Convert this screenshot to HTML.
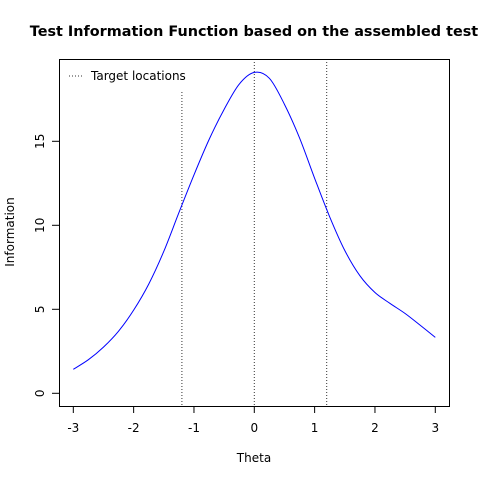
<!DOCTYPE html>
<html><head><meta charset="utf-8"><style>body{margin:0;background:#fff}svg{display:block}text{font-family:"DejaVu Sans","Liberation Sans",sans-serif;fill:#000}</style></head>
<body>
<svg id="chart" width="480" height="480" viewBox="0 0 480 480">
<rect width="480" height="480" fill="#fff"/>
<text x="254" y="36" text-anchor="middle" font-size="14.4" font-weight="bold">Test Information Function based on the assembled test</text>
<g id="plot"></g>
<text x="254" y="462" text-anchor="middle" font-size="12">Theta</text>
<text transform="translate(14,232) rotate(-90)" text-anchor="middle" font-size="12">Information</text>
</svg>
<script>
const thetas=[-3,-2.75,-2.5,-2.25,-2,-1.75,-1.5,-1.25,-1,-0.75,-0.5,-0.25,0,0.25,0.5,0.75,1,1.25,1.5,1.75,2,2.25,2.5,2.75,3];
const info=[1.43,2.0,2.75,3.7,4.95,6.5,8.45,10.75,13.0,15.1,16.9,18.4,19.1,18.75,17.2,15.2,12.8,10.5,8.5,7.0,6.0,5.35,4.75,4.05,3.33];
const targets=[-1.2,0,1.2];
const xTicks=[-3,-2,-1,0,1,2,3];
const yTicks=[0,5,10,15];
const NS='http://www.w3.org/2000/svg';
const g=document.getElementById('plot');
const X=v=>254.3+60.33*v, Y=v=>393.3-16.8*v;
function mk(t,a){const e=document.createElementNS(NS,t);for(const k in a)e.setAttribute(k,a[k]);g.appendChild(e);return e;}
targets.forEach(t=>{const l=mk('line',{x1:X(t),x2:X(t),y1:59,y2:406,stroke:'#333','stroke-width':1,'stroke-dasharray':'1,2'});

});
const lb=mk('rect',{x:60,y:60,width:130,height:30,fill:'#fff'});


const P=thetas.map((t,i)=>[X(t),Y(info[i])]);
let d='M'+P[0][0]+','+P[0][1];
for(let i=0;i<P.length-1;i++){const p0=P[i-1]||P[i],p1=P[i],p2=P[i+1],p3=P[i+2]||P[i+1];
d+=' C'+(p1[0]+(p2[0]-p0[0])/6)+','+(p1[1]+(p2[1]-p0[1])/6)+' '+(p2[0]-(p3[0]-p1[0])/6)+','+(p2[1]-(p3[1]-p1[1])/6)+' '+p2[0]+','+p2[1];}
const c=mk('path',{d:d,fill:'none',stroke:'#0000ff','stroke-width':1});


const box=mk('rect',{x:59.5,y:59.5,width:390,height:347,fill:'none',stroke:'#000','stroke-width':1});


xTicks.forEach(t=>{const l=mk('line',{x1:X(t),x2:X(t),y1:406,y2:413,stroke:'#000'});


const tx=mk('text',{x:X(t),y:432,'text-anchor':'middle','font-size':12});tx.textContent=t;

});
yTicks.forEach(t=>{const l=mk('line',{x1:52,x2:59,y1:Y(t),y2:Y(t),stroke:'#000'});


const tx=mk('text',{transform:`translate(44,${Y(t)}) rotate(-90)`,'text-anchor':'middle','font-size':12});tx.textContent=t;

});
const ll=mk('line',{x1:69,x2:83,y1:76,y2:76,stroke:'#333','stroke-dasharray':'1,2'});


const lt=mk('text',{x:91,y:80,'font-size':12});lt.textContent='Target locations';


</script>
</body></html>
